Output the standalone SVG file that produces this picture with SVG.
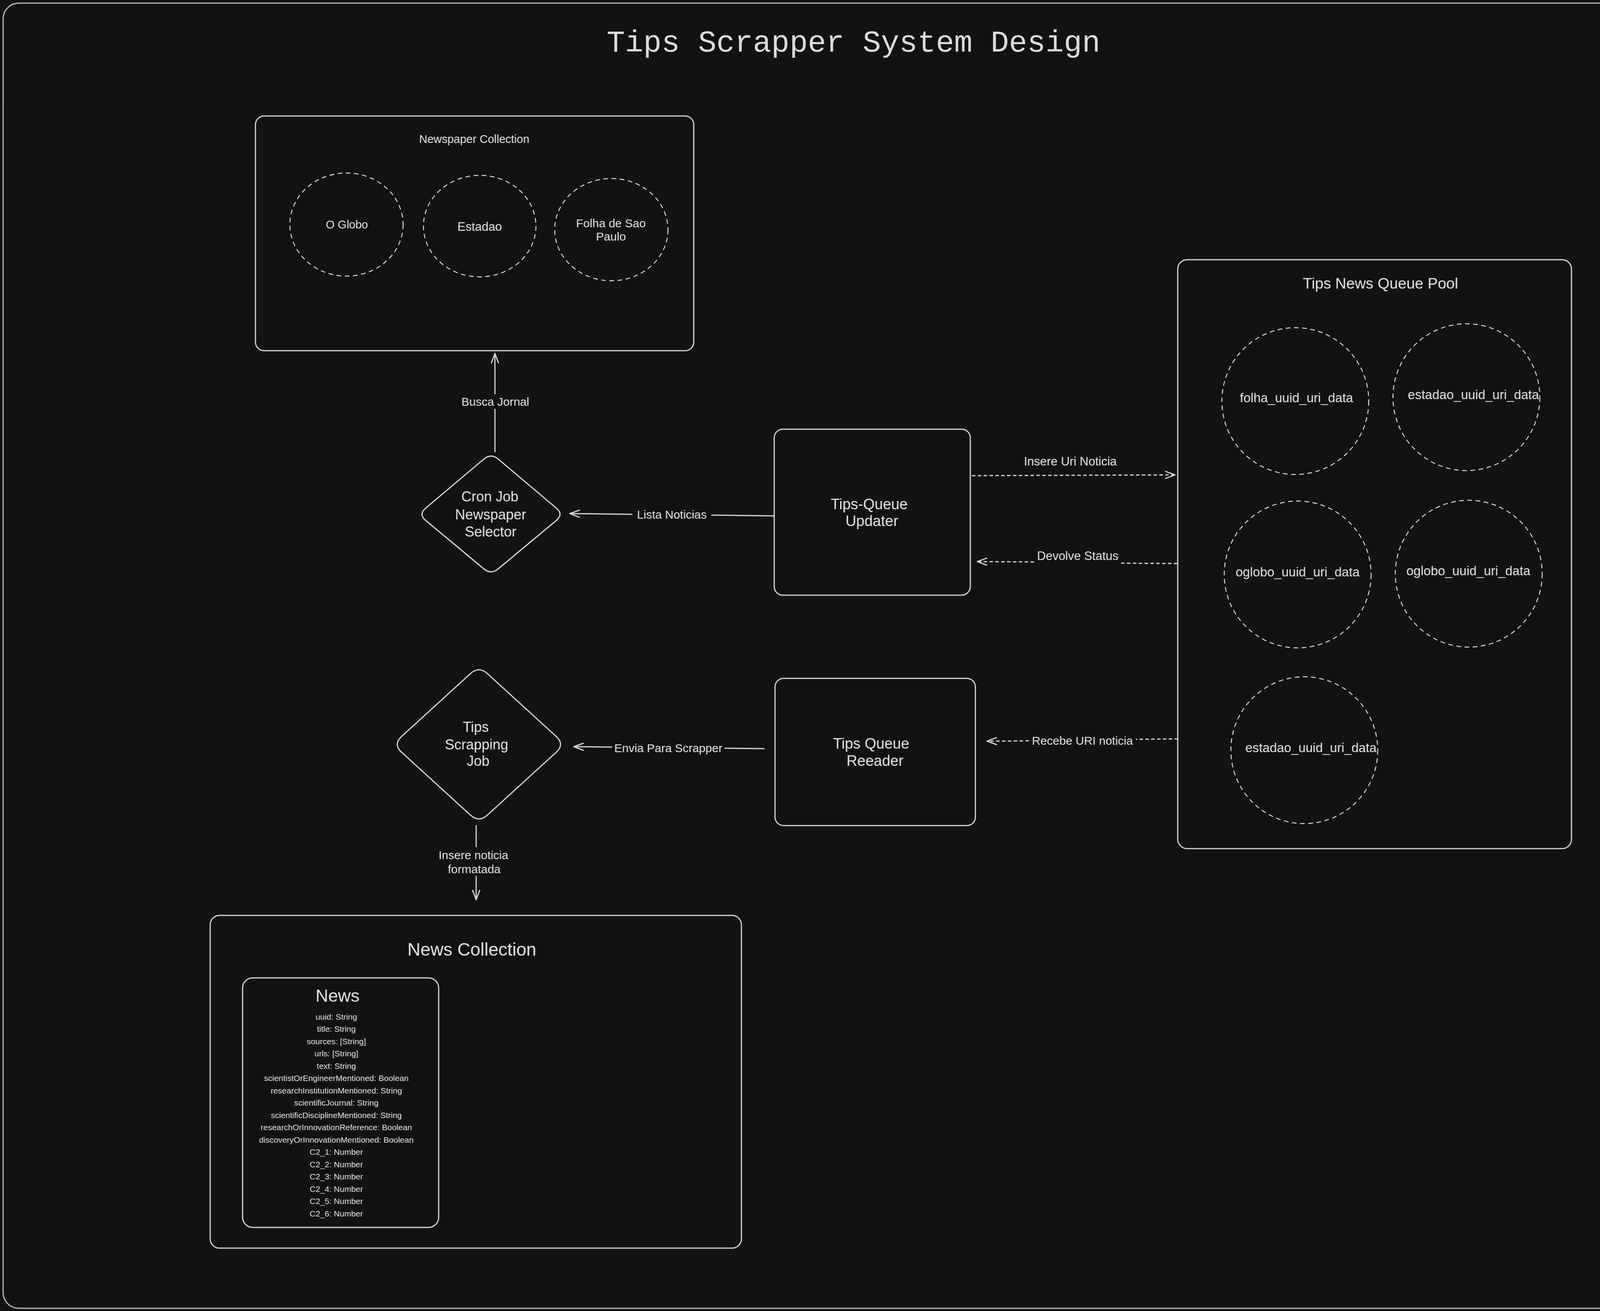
<svg xmlns="http://www.w3.org/2000/svg" width="4337" height="3357" viewBox="0 0 4337 3357">
<style>
.box{fill:#121212;stroke:#d6d6d6;stroke-width:3}
.dash{fill:none;stroke:#d6d6d6;stroke-width:2.5;stroke-dasharray:12 9}
.t{fill:#e0e0e0;font-family:"Liberation Sans","Noto Sans",sans-serif;text-anchor:middle;dominant-baseline:central}
.ln{fill:none;stroke:#d6d6d6;stroke-width:3;stroke-linecap:round}
.dl{fill:none;stroke:#d6d6d6;stroke-width:3;stroke-dasharray:9 6}
</style>
<defs>
<marker id="arr" markerUnits="userSpaceOnUse" markerWidth="30" markerHeight="24" refX="26" refY="12" orient="auto" viewBox="0 0 30 24">
<path d="M2,3 L26,12 L2,21" fill="none" stroke="#d6d6d6" stroke-width="3" stroke-linecap="round" stroke-linejoin="round" stroke-dasharray="none"/>
</marker>
</defs>
<rect width="4337" height="3357" fill="#121212"/>
<rect id="frame" x="8" y="8" width="4321" height="3342" rx="40" fill="none" stroke="#bdbdbd" stroke-width="3"/>
<text id="title" x="2185" y="132" fill="#dcdcdc" font-family="'Liberation Mono','DejaVu Sans Mono',monospace" font-size="78" text-anchor="middle">Tips Scrapper System Design</text>

<g id="newspaper-collection">
<rect class="box" x="654" y="297" width="1122" height="601" rx="22"/>
<text class="t" x="1214" y="356" font-size="29">Newspaper Collection</text>
<g id="o-globo"><ellipse class="dash" cx="887" cy="575" rx="145" ry="132"/><text class="t" x="888" y="575" font-size="29">O Globo</text></g>
<g id="estadao"><ellipse class="dash" cx="1228" cy="579" rx="144" ry="130"/><text class="t" x="1228" y="580" font-size="31">Estadao</text></g>
<g id="folha"><ellipse class="dash" cx="1565" cy="588" rx="145" ry="131"/><text class="t" x="1564" y="571" font-size="30">Folha de Sao</text><text class="t" x="1564" y="605" font-size="30">Paulo</text></g>
</g>

<g id="cron-job">
<path class="box" d="M1275.6,1175.7 L1424.4,1301.3 Q1443,1317 1424.4,1332.5 L1275.6,1456.5 Q1257,1472 1238.4,1456.5 L1089.6,1332.5 Q1071,1317 1089.6,1301.3 L1238.4,1175.7 Q1257,1160 1275.6,1175.7 Z"/>
<text class="t" x="1254" y="1271" font-size="36">Cron Job</text>
<text class="t" x="1256" y="1317" font-size="36">Newspaper</text>
<text class="t" x="1256" y="1361" font-size="36">Selector</text>
</g>

<g id="tips-queue-updater">
<rect class="box" x="1982" y="1099" width="502" height="425" rx="22"/>
<text class="t" x="2225" y="1291" font-size="38">Tips-Queue</text>
<text class="t" x="2232" y="1334" font-size="38">Updater</text>
</g>

<g id="tips-scrapping-job">
<path class="box" d="M1248,1725.1 L1424,1885.9 Q1446,1906 1424,1926.1 L1248,2086.9 Q1226,2107 1204,2086.9 L1028,1926.1 Q1006,1906 1028,1885.9 L1204,1725.1 Q1226,1705 1248,1725.1 Z"/>
<text class="t" x="1218" y="1861" font-size="36">Tips</text>
<text class="t" x="1220" y="1906" font-size="36">Scrapping</text>
<text class="t" x="1224" y="1948" font-size="36">Job</text>
</g>

<g id="tips-queue-reader">
<rect class="box" x="1984" y="1737" width="513" height="377" rx="22"/>
<text class="t" x="2230" y="1904" font-size="38">Tips Queue</text>
<text class="t" x="2240" y="1948" font-size="38">Reeader</text>
</g>

<g id="tips-news-queue-pool">
<rect class="box" x="3015" y="665" width="1008" height="1508" rx="24"/>
<text class="t" x="3534" y="725" font-size="39">Tips News Queue Pool</text>
<g id="q-folha"><circle class="dash" cx="3316" cy="1027" r="188"/><text class="t" x="3319" y="1018" font-size="33">folha_uuid_uri_data</text></g>
<g id="q-estadao-1"><circle class="dash" cx="3754" cy="1017" r="188"/><text class="t" x="3772" y="1010" font-size="33">estadao_uuid_uri_data</text></g>
<g id="q-oglobo-1"><circle class="dash" cx="3322" cy="1471" r="188"/><text class="t" x="3322" y="1464" font-size="33">oglobo_uuid_uri_data</text></g>
<g id="q-oglobo-2"><circle class="dash" cx="3760" cy="1469" r="188"/><text class="t" x="3759" y="1461" font-size="33">oglobo_uuid_uri_data</text></g>
<g id="q-estadao-2"><circle class="dash" cx="3339" cy="1921" r="188"/><text class="t" x="3356" y="1914" font-size="33">estadao_uuid_uri_data</text></g>
</g>

<g id="news-collection">
<rect class="box" x="538" y="2344" width="1360" height="852" rx="24"/>
<text class="t" x="1208" y="2431" font-size="46">News Collection</text>
<g id="news">
<rect class="box" x="621" y="2504" width="502" height="639" rx="26"/>
<text class="t" x="864" y="2549" font-size="45">News</text>
<text class="t" x="861" y="2603" font-size="21">uuid: String</text>
<text class="t" x="861" y="2634.5" font-size="21">title: String</text>
<text class="t" x="861" y="2666" font-size="21">sources: [String]</text>
<text class="t" x="861" y="2697.5" font-size="21">urls: [String]</text>
<text class="t" x="861" y="2729" font-size="21">text: String</text>
<text class="t" x="861" y="2760.5" font-size="21">scientistOrEngineerMentioned: Boolean</text>
<text class="t" x="861" y="2792" font-size="21">researchInstitutionMentioned: String</text>
<text class="t" x="861" y="2823.5" font-size="21">scientificJournal: String</text>
<text class="t" x="861" y="2855" font-size="21">scientificDisciplineMentioned: String</text>
<text class="t" x="861" y="2886.5" font-size="21">researchOrInnovationReference: Boolean</text>
<text class="t" x="861" y="2918" font-size="21">discoveryOrInnovationMentioned: Boolean</text>
<text class="t" x="861" y="2949.5" font-size="21">C2_1: Number</text>
<text class="t" x="861" y="2981" font-size="21">C2_2: Number</text>
<text class="t" x="861" y="3012.5" font-size="21">C2_3: Number</text>
<text class="t" x="861" y="3044" font-size="21">C2_4: Number</text>
<text class="t" x="861" y="3075.5" font-size="21">C2_5: Number</text>
<text class="t" x="861" y="3107" font-size="21">C2_6: Number</text>
</g>
</g>

<g id="connectors">
<g id="busca-jornal">
<path class="ln" d="M1267,1157 L1267,1048"/>
<path class="ln" d="M1267,1008 L1267,905" marker-end="url(#arr)"/>
<text class="t" x="1268" y="1028" font-size="30">Busca Jornal</text>
</g>
<g id="lista-noticias">
<path class="ln" d="M1982,1321 L1822,1319"/>
<path class="ln" d="M1618,1317 L1459,1315" marker-end="url(#arr)"/>
<text class="t" x="1720" y="1317" font-size="30">Lista Noticias</text>
</g>
<g id="insere-uri-noticia">
<path class="dl" d="M2488,1218 L3008,1216" marker-end="url(#arr)"/>
<text class="t" x="2740" y="1181" font-size="31">Insere Uri Noticia</text>
</g>
<g id="devolve-status">
<path class="dl" d="M3014,1443 L2869,1442"/>
<path class="dl" d="M2647,1439 L2502,1438" marker-end="url(#arr)"/>
<text class="t" x="2759" y="1423" font-size="31">Devolve Status</text>
</g>
<g id="envia-para-scrapper">
<path class="ln" d="M1956,1917 L1856,1916"/>
<path class="ln" d="M1566,1913 L1469,1912" marker-end="url(#arr)"/>
<text class="t" x="1711" y="1915" font-size="30">Envia Para Scrapper</text>
</g>
<g id="recebe-uri-noticia">
<path class="dl" d="M3016,1892 L2908,1893"/>
<path class="dl" d="M2634,1897 L2527,1898" marker-end="url(#arr)"/>
<text class="t" x="2771" y="1896" font-size="30">Recebe URI noticia</text>
</g>
<g id="insere-noticia-formatada">
<path class="ln" d="M1219,2114 L1219,2168"/>
<path class="ln" d="M1219,2244 L1219,2304" marker-end="url(#arr)"/>
<text class="t" x="1212" y="2189" font-size="30">Insere noticia</text>
<text class="t" x="1214" y="2225" font-size="30">formatada</text>
</g>
</g>
</svg>
